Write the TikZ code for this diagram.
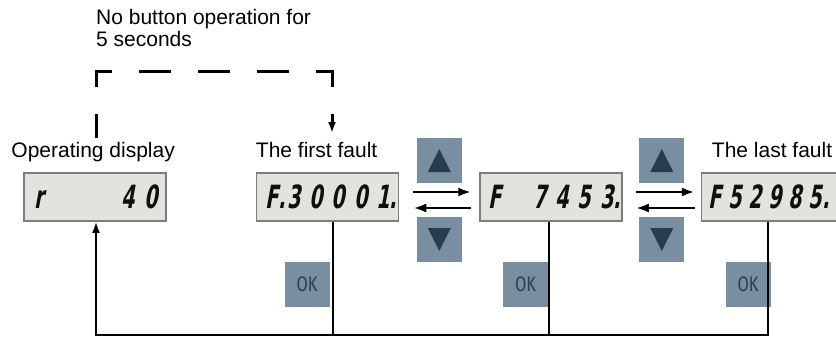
\documentclass[tikz,border=0pt]{standalone}
\usepackage{fontspec}
\setmainfont{Liberation Sans}
\newfontfamily\segfont[FakeSlant=0.18,FakeStretch=0.6]{DejaVu Sans}
\newfontfamily\okfont[FakeStretch=0.78]{Fira Sans}
\usetikzlibrary{arrows.meta, positioning, calc}

\definecolor{dispfill}{RGB}{226,227,221}
\definecolor{displine}{RGB}{125,125,125}
\definecolor{keyfill}{RGB}{122,142,162}
\definecolor{keymark}{RGB}{36,62,78}
\definecolor{keytext}{RGB}{40,62,82}
\definecolor{segink}{RGB}{15,15,15}

\newcommand\segcell[2][22.3pt]{\makebox[#1]{#2}}
\newcommand\segrow[1]{\makebox[134pt][l]{#1}}

\begin{document}
\begin{tikzpicture}[x=1pt, y=-1pt,
  display/.style={draw=displine, line width=1.5pt, fill=dispfill, minimum width=142pt,
    minimum height=48pt, inner sep=0pt, font=\segfont\bfseries\fontsize{32}{32}\selectfont, text=segink},
  key/.style={fill=keyfill, minimum size=45pt, inner sep=0pt,
    font=\okfont\fontsize{21}{21}\selectfont, text=keytext},
  caption/.style={font=\fontsize{21}{22}\selectfont, inner sep=0pt, anchor=base west},
  link/.style={line width=2.8pt},
  tri up/.pic={\fill[keymark] (0pt,11.5pt) -- (-11.5pt,-11.5pt) -- (11.5pt,-11.5pt) -- cycle;},
  tri down/.pic={\fill[keymark] (0pt,-11.5pt) -- (-11.5pt,11.5pt) -- (11.5pt,11.5pt) -- cycle;}]
\useasboundingbox (0,0) rectangle (836,338);

% displays
\node[display] (disp1) at (95,197) {\segrow{\segcell{r}\hfill\segcell{4}\segcell{0}}};
\node[display, right=89pt of disp1] (disp2) {\segrow{\segcell{F\rlap{.}}\segcell{3}\segcell{0}\segcell{0}\segcell{0}\segcell{1\rlap{.}}}};
\node[display, right=80pt of disp2] (disp3) {\segrow{\segcell{F}\hfill\segcell{7}\segcell{4}\segcell{5}\segcell{3\rlap{.}}}};
\node[display, right=78pt of disp3] (disp4) {\segrow{\segcell[20pt]{F}\segcell[20pt]{5}\segcell[20pt]{2}\segcell[20pt]{9}\segcell[20pt]{8}\segcell[20pt]{5\rlap{.}}}};

% captions
\node[caption] (oplabel) at ([xshift=-12pt,yshift=15pt]disp1.north west) {Operating display};
\node[caption] (firstlabel) at ([yshift=15pt]disp2.north west) {The first fault};
\node[caption] (lastlabel) at ([xshift=11pt,yshift=15pt]disp4.north west) {The last fault};
\node[caption, anchor=north west, align=left] (idlenote) at (96,9.5) {No button operation for\\5 seconds};

% up/down keys
\coordinate (gap1) at ($(disp2.east)!.5!(disp3.west)$);
\coordinate (gap2) at ($(disp3.east)!.5!(disp4.west)$);
\node[key] (up1) at ([yshift=36.5pt]gap1) {};
\node[key] (down1) at ([yshift=-42.5pt]gap1) {};
\node[key] (up2) at ([yshift=36.5pt]gap2) {};
\node[key] (down2) at ([yshift=-42.5pt]gap2) {};
\pic at (up1) {tri up};
\pic at (down1) {tri down};
\pic at (up2) {tri up};
\pic at (down2) {tri down};

% OK keys
\node[key] (ok1) at ([xshift=-20.5pt,yshift=-87.5pt]disp2.center) {OK};
\node[key] (ok2) at ([xshift=-25.5pt,yshift=-87.5pt]disp3.center) {OK};
\node[key] (ok3) at ([xshift=-24.5pt,yshift=-87.5pt]disp4.center) {OK};

% scrolling arrows
\draw[link, -{Latex[length=13pt,width=9pt]}] ([xshift=14pt,yshift=5pt]disp2.east) -- ([xshift=-8pt,yshift=5pt]disp3.west);
\draw[link, -{Latex[length=13pt,width=9pt]}] ([xshift=-8pt,yshift=-11pt]disp3.west) -- ([xshift=14pt,yshift=-11pt]disp2.east);
\draw[link, -{Latex[length=13pt,width=9pt]}] ([xshift=13pt,yshift=5pt]disp3.east) -- ([xshift=-6pt,yshift=5pt]disp4.west);
\draw[link, -{Latex[length=13pt,width=9pt]}] ([xshift=-6pt,yshift=-11pt]disp4.west) -- ([xshift=13pt,yshift=-11pt]disp3.east);

% return lines
\coordinate (tap1) at (333,335);
\coordinate (tap2) at (549,335);
\coordinate (tap3) at (768,335);
\coordinate (ret) at (96,335);
\draw[link] (tap1 |- disp2.south) -- (tap1);
\draw[link] (tap2 |- disp3.south) -- (tap2);
\draw[link, -{Latex[length=11pt,width=8pt]}] (tap3 |- disp4.south) -- (tap3) -- (ret) -- (ret |- disp1.south);

% timeout
\coordinate (idle) at (96,138);
\coordinate (idleto) at (332,133);
\draw[link, line width=3pt, dash pattern=on 32pt off 27pt, dash phase=8pt, -{Latex[length=11pt,width=8pt]}]
  (idle) -- ++(0,-67) -| (idleto);
\end{tikzpicture}
\end{document}
